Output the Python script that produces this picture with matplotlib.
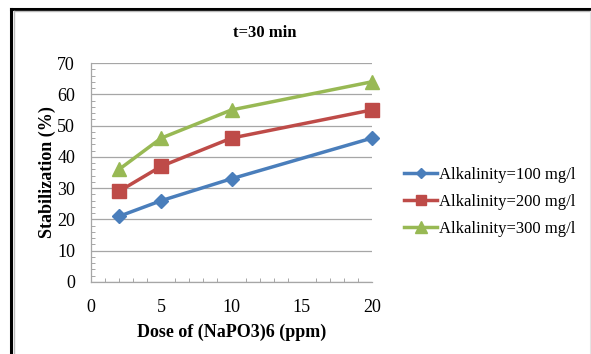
import matplotlib
matplotlib.use("Agg")
import matplotlib.pyplot as plt
from matplotlib.lines import Line2D
from matplotlib.ticker import MultipleLocator

# Data
dose = [2, 5, 10, 20]
alk_100 = [21, 26, 33, 46]
alk_200 = [29, 37, 46, 55]
alk_300 = [36, 46, 55, 64]
series_labels = ["Alkalinity=100 mg/l", "Alkalinity=200 mg/l", "Alkalinity=300 mg/l"]
x_ticks = [0, 5, 10, 15, 20]
y_ticks = [0, 10, 20, 30, 40, 50, 60, 70]

plt.rcParams["font.family"] = ["Liberation Serif", "DejaVu Serif"]

fig = plt.figure(figsize=(5.91, 3.54), dpi=100)
ax = fig.add_axes([91 / 591, 1 - 282 / 354, (372 - 91) / 591, (282 - 63) / 354])

colors = ["#4A7EBB", "#BE4B48", "#98B954"]
markers = ["D", "s", "^"]
msizes = [7, 9.5, 10]
for vals, c, m, ms, lab in zip([alk_100, alk_200, alk_300], colors, markers, msizes, series_labels):
    ax.plot(dose, vals, color=c, marker=m, markersize=ms, linewidth=2.5, label=lab,
            markeredgecolor=c, zorder=3, clip_on=False)

ax.set_xlim(0, 20)
ax.set_ylim(0, 70)
ax.set_xticks(x_ticks)
ax.set_yticks(y_ticks)
ax.xaxis.set_minor_locator(MultipleLocator(1))
ax.yaxis.set_minor_locator(MultipleLocator(2))
ax.tick_params(axis="both", which="major", length=0, labelsize=13, colors="black")
ax.tick_params(axis="y", which="major", pad=11.5)
ax.tick_params(axis="x", which="major", pad=12)
ax.tick_params(axis="both", which="minor", direction="in", length=3, color="#999999")

ax.grid(axis="y", which="major", color="#A6A6A6", linewidth=0.9)
ax.set_axisbelow(True)
for side in ["top", "right"]:
    ax.spines[side].set_visible(False)
for side in ["left", "bottom"]:
    ax.spines[side].set_color("#A6A6A6")
    ax.spines[side].set_linewidth(0.9)

ax.set_xlabel("Dose of (NaPO3)6 (ppm)", fontsize=13, fontweight="bold", labelpad=6)
ax.set_ylabel("Stabilization (%)", fontsize=13, fontweight="bold")
ax.yaxis.set_label_coords((56 - 91) / 281, 0.5)
fig.text(265 / 591, 1 - 33 / 354, "t=30 min", ha="center", va="center",
         fontsize=12, fontweight="bold")

handles = [Line2D([0], [0], color=c, marker=m, markersize=ms * 0.8, linewidth=2.5,
                  markeredgecolor=c) for c, m, ms in zip(colors, markers, msizes)]
fig.legend(handles, series_labels, loc="center left",
           bbox_to_anchor=(404 / 591, 1 - 202 / 354), frameon=False,
           fontsize=12, handlelength=2.0, handletextpad=0.1, labelspacing=0.65,
           borderaxespad=0, borderpad=0)

# Outer frame: heavy black edge on top and left with light inner lines
fig.add_artist(Line2D([10.5 / 591, 1], [1 - 8.5 / 354] * 2, color="black", linewidth=2.2,
                      transform=fig.transFigure))
fig.add_artist(Line2D([10.5 / 591] * 2, [0, 1 - 8.5 / 354], color="black", linewidth=2.2,
                      transform=fig.transFigure))
fig.add_artist(Line2D([13.5 / 591, 1], [1 - 11 / 354] * 2, color="#BBBBBB", linewidth=1,
                      transform=fig.transFigure))
fig.add_artist(Line2D([13.5 / 591] * 2, [0, 1 - 11 / 354], color="#BBBBBB", linewidth=1,
                      transform=fig.transFigure))
fig.add_artist(Line2D([589.5 / 591] * 2, [0, 1 - 11 / 354], color="#E4E4E4", linewidth=0.8,
                      transform=fig.transFigure))

fig.savefig("out.png", dpi=100)
